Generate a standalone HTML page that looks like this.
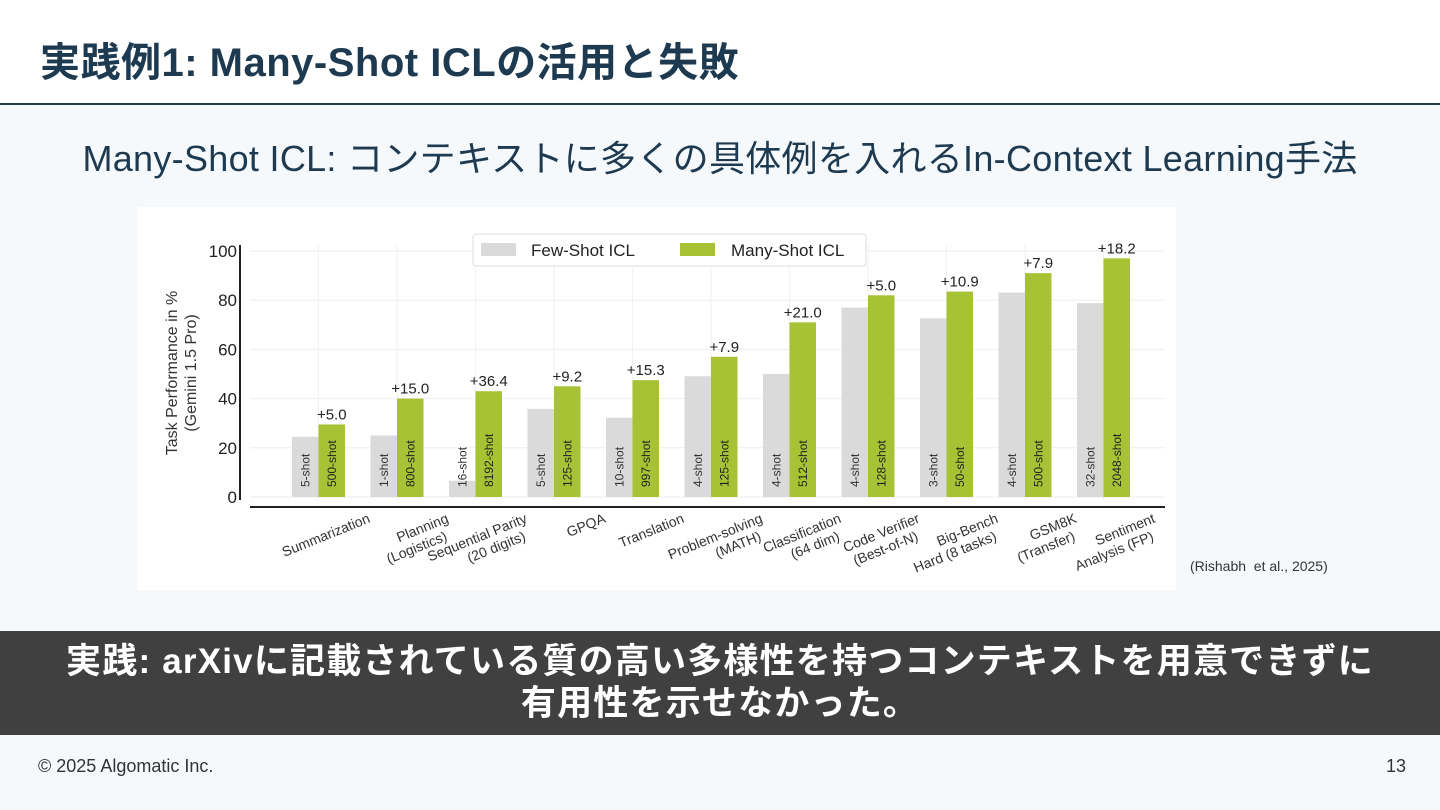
<!DOCTYPE html>
<html><head><meta charset="utf-8">
<style>
body{margin:0;width:1440px;height:810px;background:#f6f9fc;font-family:"Liberation Sans","Noto Sans CJK JP",sans-serif;position:relative;overflow:hidden}
#hdr{position:absolute;left:0;top:0;width:1440px;height:103px;background:#fff;border-bottom:2px solid #1f3a4d}
#title{position:absolute;left:40px;top:30px;font-size:40px;font-weight:bold;color:#1d3a50;margin:0;letter-spacing:0.5px}
#sub{position:absolute;left:0;width:1440px;top:130px;text-align:center;font-size:36px;color:#1d3a50;letter-spacing:0.3px}
#chart{position:absolute;left:137px;top:207px;width:1039px;height:383px;background:#fff}
#cite{position:absolute;left:1190px;top:558px;font-size:14px;color:#333}
#banner{position:absolute;left:0;top:631px;width:1440px;height:104px;background:#404040;color:#fff;font-weight:bold;font-size:35px;text-align:center;line-height:42px;padding-top:10px;box-sizing:border-box;letter-spacing:1.2px}
#copy{position:absolute;left:38px;top:756px;font-size:18px;color:#333}
#pg{position:absolute;right:34px;top:756px;font-size:18px;color:#333}
</style></head><body>
<div id="hdr"><h1 id="title">実践例1: Many-Shot ICLの活用と失敗</h1></div>
<div id="sub">Many-Shot ICL: コンテキストに多くの具体例を入れるIn-Context Learning手法</div>
<svg id="chart" width="1039" height="383" viewBox="137 207 1039 383"></svg>
<div id="cite">(Rishabh&nbsp; et al., 2025)</div>
<div id="banner">実践: arXivに記載されている質の高い多様性を持つコンテキストを用意できずに<br>有用性を示せなかった。</div>
<div id="copy">© 2025 Algomatic Inc.</div>
<div id="pg">13</div>
<script>
const categories=[["Summarization"],["Planning","(Logistics)"],["Sequential Parity","(20 digits)"],["GPQA"],["Translation"],["Problem-solving","(MATH)"],["Classification","(64 dim)"],["Code Verifier","(Best-of-N)"],["Big-Bench","Hard (8 tasks)"],["GSM8K","(Transfer)"],["Sentiment","Analysis (FP)"]];
const fewValues=[24.5,25,6.6,35.8,32.2,49.1,50,77,72.6,83.1,78.8];
const manyValues=[29.5,40,43,45,47.5,57,71,82,83.5,91,97];
const deltaLabels=["+5.0","+15.0","+36.4","+9.2","+15.3","+7.9","+21.0","+5.0","+10.9","+7.9","+18.2"];
const fewShots=["5-shot","1-shot","16-shot","5-shot","10-shot","4-shot","4-shot","4-shot","3-shot","4-shot","32-shot"];
const manyShots=["500-shot","800-shot","8192-shot","125-shot","997-shot","125-shot","512-shot","128-shot","50-shot","500-shot","2048-shot"];
const yTicks=[0,20,40,60,80,100];
const svg=document.getElementById('chart');
const NS='http://www.w3.org/2000/svg';
const y=v=>497-v*2.46;
const xg=i=>292+i*78.5;
const bw=26.5;
function mk(t,a,p){const e=document.createElementNS(NS,t);for(const k in a)e.setAttribute(k,a[k]);(p||svg).appendChild(e);return e;}
yTicks.forEach(t=>{const l=mk('line',{x1:250,x2:1165,y1:y(t),y2:y(t),stroke:'#eee','stroke-width':1});


const tx=mk('text',{x:237,y:y(t)+6,'text-anchor':'end','font-size':17,fill:'#222'});tx.textContent=t;

});
categories.forEach((c,i)=>{const l=mk('line',{x1:xg(i)+bw,x2:xg(i)+bw,y1:245,y2:500,stroke:'#f2f2f2'});

});
mk('line',{x1:240,x2:240,y1:245,y2:500,stroke:'#222','stroke-width':2});
mk('line',{x1:250,x2:1165,y1:507,y2:507,stroke:'#222','stroke-width':2});
const yt=mk('text',{transform:'translate(177,373) rotate(-90)','text-anchor':'middle','font-size':16,fill:'#333'});


yt.innerHTML='<tspan x="0" dy="0">Task Performance in %</tspan><tspan x="0" dy="19">(Gemini 1.5 Pro)</tspan>';
categories.forEach((c,i)=>{
 const x=xg(i);
 const f=mk('rect',{x:x,y:y(fewValues[i]),width:bw,height:y(0)-y(fewValues[i]),fill:'#dadada'});
 
 
 const m=mk('rect',{x:x+bw,y:y(manyValues[i]),width:bw,height:y(0)-y(manyValues[i]),fill:'#a8c236'});
 
 
 const d=mk('text',{x:x+bw*1.5,y:y(manyValues[i])-5,'text-anchor':'middle','font-size':15,fill:'#222'});d.textContent=deltaLabels[i];
 
 
 const fs=mk('text',{transform:`translate(${x+bw/2+4},${y(0)-10}) rotate(-90)`,'font-size':12,fill:'#333'});fs.textContent=fewShots[i];
 
 
 const ms=mk('text',{transform:`translate(${x+bw*1.5+4},${y(0)-10}) rotate(-90)`,'font-size':12,fill:'#222'});ms.textContent=manyShots[i];
 
 
 const cl=mk('text',{transform:`translate(${x+bw*2+26},${522}) rotate(-22)`,'text-anchor':'end','font-size':14,fill:'#333'});
 
 
 c.forEach((s,j)=>{const ts=mk('tspan',{x:j?-8:0,y:j*16},cl);ts.textContent=s;});
});
const lg=mk('g',{});


mk('rect',{x:473,y:234,width:393,height:32,fill:'#fff',stroke:'#ddd',rx:3},lg);
mk('rect',{x:481,y:243,width:35,height:13,fill:'#dadada'},lg);
const l1=mk('text',{x:531,y:256,'font-size':17,fill:'#222'},lg);l1.textContent='Few-Shot ICL';
mk('rect',{x:680,y:243,width:35,height:13,fill:'#a8c236'},lg);
const l2=mk('text',{x:731,y:256,'font-size':17,fill:'#222'},lg);l2.textContent='Many-Shot ICL';
</script>
</body></html>
